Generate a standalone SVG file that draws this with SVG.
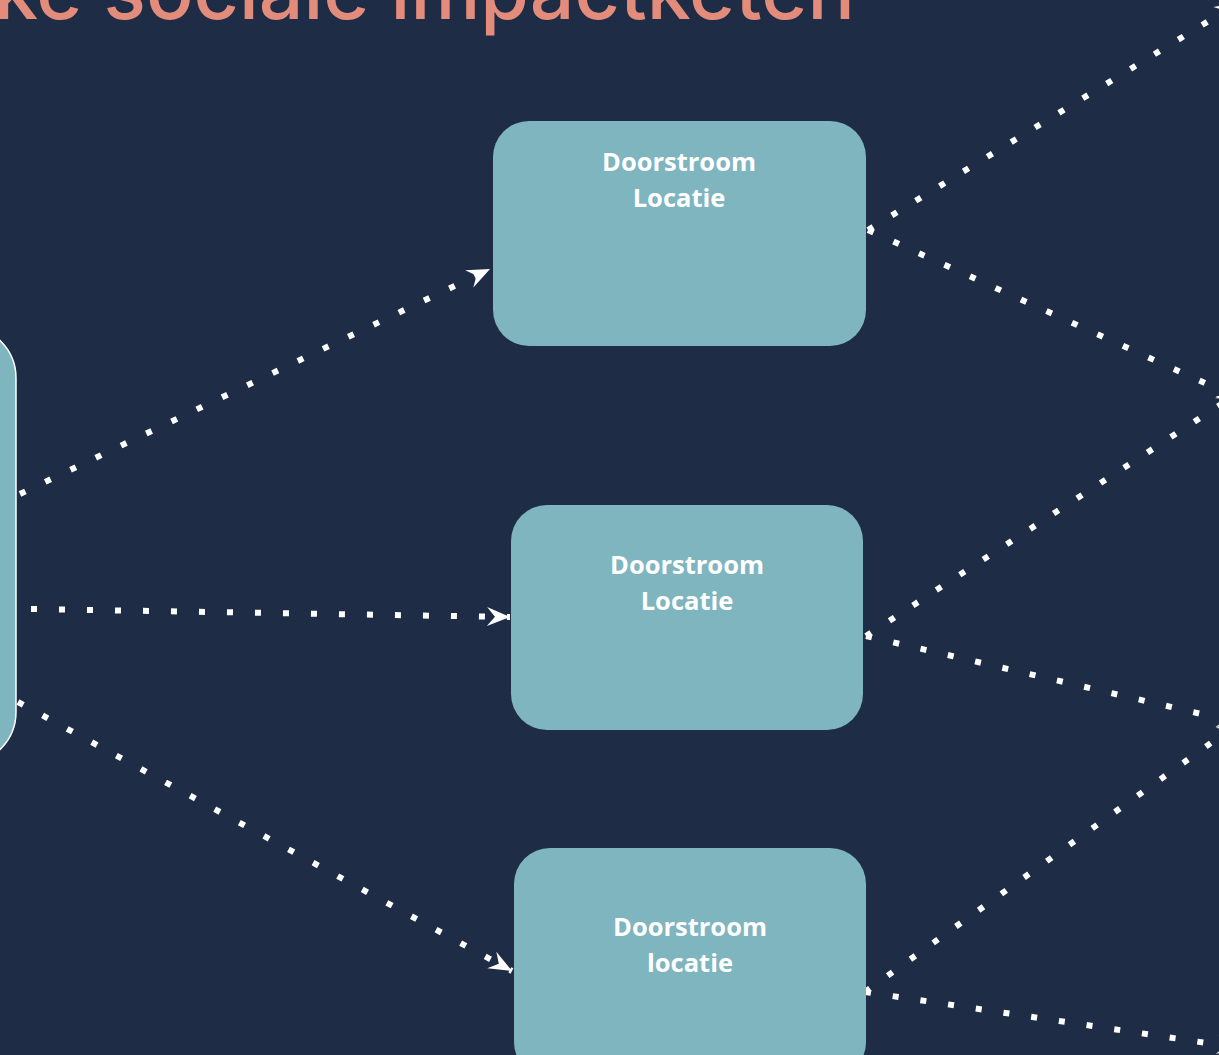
<svg xmlns="http://www.w3.org/2000/svg" width="1219" height="1055" viewBox="0 0 1219 1055">
<defs>
<style>
.bg{fill:#1e2d45}
.node{fill:#7fb5bf}
.lbl{font-family:"Open Sans","Liberation Sans",sans-serif;font-weight:700;font-size:25.5px;fill:#ffffff;text-anchor:middle}
.title{font-family:"Inter","Lato","Liberation Sans",sans-serif;font-weight:500;font-size:80px;fill:#e38c7b}
.conn{fill:none;stroke:#ffffff;stroke-width:6;stroke-dasharray:6 22}
</style>
<marker id="arr" markerUnits="userSpaceOnUse" viewBox="-24 -11 26 22" refX="0" refY="0" markerWidth="26" markerHeight="22" orient="auto">
<path d="M0,0 L-23,-9.5 L-15,0 L-23,9.5 Z" fill="#ffffff"/>
</marker>
</defs>
<rect class="bg" x="0" y="0" width="1219" height="1055"/>
<text class="title" x="-6" y="19" textLength="861" lengthAdjust="spacingAndGlyphs">ke sociale impactketen</text>
<g id="connectors">
<line class="conn" x1="20" y1="494" x2="490" y2="269" marker-end="url(#arr)"/>
<line class="conn" x1="31" y1="609" x2="510" y2="617" marker-end="url(#arr)"/>
<line class="conn" x1="18" y1="702" x2="512" y2="971" marker-end="url(#arr)"/>
<line class="conn" x1="868" y1="230" x2="1238" y2="3" marker-end="url(#arr)"/>
<line class="conn" x1="868" y1="230" x2="1240" y2="399" marker-end="url(#arr)"/>
<line class="conn" x1="866" y1="636" x2="1240" y2="392" marker-end="url(#arr)"/>
<line class="conn" x1="866" y1="636" x2="1240" y2="723" marker-end="url(#arr)"/>
<line class="conn" x1="865" y1="992" x2="1240" y2="722" marker-end="url(#arr)"/>
<line class="conn" x1="865" y1="992" x2="1240" y2="1048" marker-end="url(#arr)"/>
</g>
<g id="node-left">
<rect x="-400" y="326" width="416" height="438" rx="52" fill="#7fb5bf" stroke="#ffffff" stroke-width="1.5"/>
</g>
<g id="node-1">
<rect class="node" x="493" y="121" width="373" height="225" rx="36"/>
<text class="lbl" x="679" y="171">Doorstroom</text>
<text class="lbl" x="679" y="207">Locatie</text>
</g>
<g id="node-2">
<rect class="node" x="511" y="505" width="352" height="225" rx="36"/>
<text class="lbl" x="687" y="574">Doorstroom</text>
<text class="lbl" x="687" y="610">Locatie</text>
</g>
<g id="node-3">
<rect class="node" x="514" y="848" width="352" height="230" rx="36"/>
<text class="lbl" x="690" y="936">Doorstroom</text>
<text class="lbl" x="690" y="972">locatie</text>
</g>
</svg>
